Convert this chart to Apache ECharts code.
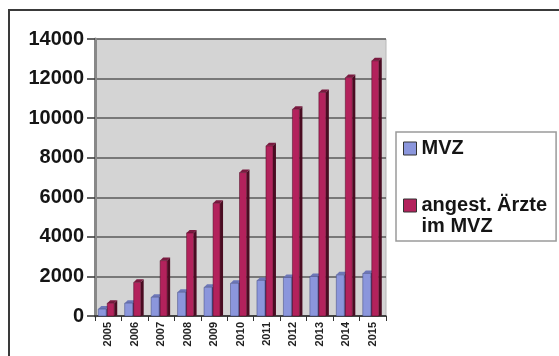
<!DOCTYPE html>
<html>
<head>
<meta charset="utf-8">
<script src="https://cdn.jsdelivr.net/npm/echarts@6/dist/echarts.min.js"></script>
<style>html,body{margin:0;padding:0;background:#fff;}#c{width:559px;height:356px;}</style>
</head>
<body>
<div id="c"></div>
<script>
var categories = ['2005','2006','2007','2008','2009','2010','2011','2012','2013','2014','2015'];
var mvz = [350, 650, 950, 1200, 1450, 1650, 1800, 1950, 2000, 2080, 2150];
var aerzte = [650, 1700, 2800, 4200, 5700, 7250, 8600, 10450, 11300, 12050, 12900];
var yTicks = [0, 2000, 4000, 6000, 8000, 10000, 12000, 14000];
var nameMVZ = 'MVZ';
var nameAerzte = 'angest. Ärzte\nim MVZ';

function bar3d(offset, width, depth, front, side, top) {
  return function (params, api) {
    var idx = api.value(0);
    var p = api.coord([idx, api.value(1)]);
    var b = api.coord([idx, 0]);
    var x0 = p[0] + offset, x1 = x0 + width, yt = p[1], yb = b[1];
    return {
      type: 'group',
      children: [
        {type: 'polygon', shape: {points: [[x1, yt], [x1 + depth, yt - depth], [x1 + depth, yb - 0.5], [x1, yb]]}, style: {fill: side}},
        {type: 'polygon', shape: {points: [[x0, yt], [x0 + depth, yt - depth], [x1 + depth, yt - depth], [x1, yt]]}, style: {fill: top}},
        {type: 'rect', shape: {x: x0, y: yt, width: width, height: yb - yt}, style: {fill: front, stroke: side, lineWidth: 0.5}}
      ]
    };
  };
}

var chart = echarts.init(document.getElementById('c'));
chart.setOption({
  animation: false,
  graphic: [{type: 'rect', shape: {x: 9, y: 10, width: 560, height: 360}, style: {fill: 'none', stroke: '#3a3a3a', lineWidth: 2}, z: 10}],
  grid: {left: 95, top: 39, right: 173, bottom: 40, show: true, backgroundColor: '#d4d4d4', borderColor: '#b8b8b8', borderWidth: 1},
  legend: {
    orient: 'vertical', left: 396, top: 132,
    padding: [6, 9, 4, 7], itemGap: 15,
    itemWidth: 13, itemHeight: 13,
    borderColor: '#9a9a9a', borderWidth: 1.5, backgroundColor: '#fff',
    textStyle: {fontFamily: 'Liberation Sans, Arial', fontWeight: 'bold', fontSize: 20, lineHeight: 21, color: '#151515'},
    itemStyle: {borderColor: '#333', borderWidth: 1},
    formatter: function (name) { return name === nameAerzte ? ' \n' + name : name; },
    data: [{name: nameMVZ, icon: 'rect'}, {name: nameAerzte, icon: 'rect'}]
  },
  xAxis: {
    type: 'category', data: categories, boundaryGap: true,
    axisLine: {lineStyle: {color: '#333', width: 1.5}},
    axisTick: {show: true, interval: 0, length: 5, lineStyle: {color: '#333'}},
    axisLabel: {rotate: 90, interval: 0, margin: 6, fontFamily: 'Liberation Sans, Arial', fontWeight: 'bold', fontSize: 11, color: '#222'}
  },
  yAxis: {
    type: 'value', min: 0, max: 14000, interval: 2000,
    axisLine: {show: true, lineStyle: {color: '#888', width: 3}},
    axisTick: {show: true, length: 8, lineStyle: {color: '#333', width: 1.5}},
    axisLabel: {margin: 11, fontFamily: 'Liberation Sans, Arial', fontWeight: 'bold', fontSize: 20, color: '#151515',
      formatter: function (v) { return yTicks.indexOf(v) >= 0 ? String(v) : ''; }},
    splitLine: {lineStyle: {color: '#5a5a5a', width: 1.5}}
  },
  series: [
    {name: nameMVZ, type: 'custom', itemStyle: {color: '#8b96dc'},
      renderItem: bar3d(-10, 8, 3, '#8b96dc', '#3f467e', '#6d77b8'),
      encode: {x: 0, y: 1},
      data: mvz.map(function (v, i) { return [i, v]; })},
    {name: nameAerzte, type: 'custom', itemStyle: {color: '#b3225c'},
      renderItem: bar3d(-1, 7, 3, '#b3225c', '#4a0c22', '#7a1a40'),
      encode: {x: 0, y: 1},
      data: aerzte.map(function (v, i) { return [i, v]; })}
  ]
});
</script>
</body>
</html>
